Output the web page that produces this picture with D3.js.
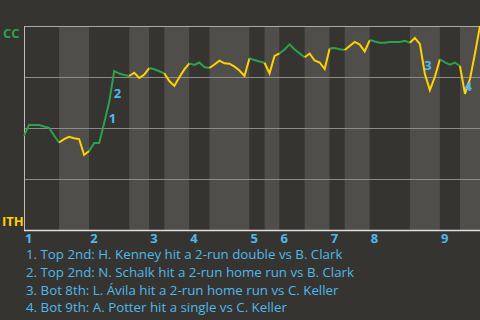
<!DOCTYPE html>
<html>
<head>
<meta charset="utf-8">
<script src="https://cdn.jsdelivr.net/npm/d3@7"></script>
<style>
    html, body { margin: 0; padding: 0; background: #363430; }
    svg { display: block; }
</style>
</head>
<body>
<script>
// plate appearances per half inning (top 1st, bot 1st, top 2nd ...)
var halfInningPA = [7, 6, 8, 4, 3, 5, 4, 8, 3, 3, 5, 5, 3, 5, 8, 6, 4, 4];

// CC win probability after each plate appearance
var winProb = [
    0.461, 0.515, 0.515, 0.515, 0.507, 0.501, 0.463, 0.429,
    0.445, 0.457, 0.450, 0.446, 0.368, 0.387,
    0.426, 0.426, 0.525, 0.627, 0.779, 0.767, 0.760, 0.755,
    0.771, 0.745, 0.762, 0.794,
    0.788, 0.778, 0.768,
    0.730, 0.706, 0.749, 0.787, 0.817,
    0.809, 0.821, 0.799, 0.794,
    0.811, 0.830, 0.817, 0.815, 0.801, 0.782, 0.755, 0.842,
    0.833, 0.826, 0.820,
    0.768, 0.853, 0.866,
    0.885, 0.910, 0.885, 0.866, 0.847,
    0.865, 0.831, 0.821, 0.789, 0.890,
    0.892, 0.886, 0.882,
    0.902, 0.922, 0.909, 0.875, 0.931,
    0.924, 0.918, 0.918, 0.922, 0.922, 0.922, 0.928, 0.918,
    0.941, 0.912, 0.765, 0.686, 0.751, 0.837,
    0.822, 0.811, 0.821, 0.804,
    0.667, 0.740, 0.866, 1.0
];

var innings = ["1", "2", "3", "4", "5", "6", "7", "8", "9"];
var yTicks = [0, 0.25, 0.5, 0.75, 1];

// key plays: index of the plate appearance that ends the play
var keyPlayIndex = [17, 18, 80, 88];
var keyPlayText = [
    "1. Top 2nd: H. Kenney hit a 2-run double vs B. Clark",
    "2. Top 2nd: N. Schalk hit a 2-run home run vs B. Clark",
    "3. Bot 8th: L. Ávila hit a 2-run home run vs C. Keller",
    "4. Bot 9th: A. Potter hit a single vs C. Keller"
];

function init() {
    var w = 480;
    var h = 320;
    var left = 24, right = 480, top = 26, bottom = 230;

    var green = "#2ba24c";
    var yellow = "#ffd200";
    var blue = "#4fb9ec";
    var font = "'Open Sans', sans-serif";

    var svg = d3.select("body").append("svg").attr("width", w).attr("height", h);
    svg.append("rect").attr("width", w).attr("height", h).attr("fill", "#363430");

    var xScale = d3.scaleLinear().domain([0, winProb.length - 1]).range([left, right]);
    var yScale = d3.scaleLinear().domain([0, 1]).range([bottom, top]);

    // half inning start/end indices
    var halves = [];
    var start = 0;
    halfInningPA.forEach(function (n, i) {
        halves.push({ start: start, end: start + n, top: i % 2 == 0, inning: Math.floor(i / 2) });
        start += n;
    });

    // background bands
    svg.selectAll("rect.band")
        .data(halves)
        .enter().append("rect")
        .attr("class", "band")
        .attr("x", function (d) { return xScale(d.start); })
        .attr("y", top)
        .attr("width", function (d) { return xScale(d.end) - xScale(d.start); })
        .attr("height", bottom - top)
        .attr("fill", function (d) { return d.top ? "#363430" : "#504e4b"; });

    // grid lines
    svg.selectAll("line.grid")
        .data(yTicks.slice(1))
        .enter().append("line")
        .attr("class", "grid")
        .attr("x1", left)
        .attr("x2", right)
        .attr("y1", function (d) { return yScale(d) + 0.5; })
        .attr("y2", function (d) { return yScale(d) + 0.5; })
        .attr("stroke", function (d) { return d == 1 ? "#a9a9a9" : "#8c8b89"; })
        .attr("stroke-width", 1);

    // axes
    svg.append("line")
        .attr("x1", left + 0.5).attr("x2", left + 0.5)
        .attr("y1", top).attr("y2", bottom + 1)
        .attr("stroke", "#bdbdbd");
    svg.append("line")
        .attr("x1", left).attr("x2", right)
        .attr("y1", yScale(0) + 0.5).attr("y2", yScale(0) + 0.5)
        .attr("stroke", "#dddddd").attr("stroke-width", 1.5);

    // win probability line, coloured by batting team
    var line = d3.line()
        .x(function (d) { return xScale(d.i); })
        .y(function (d) { return yScale(d.p); });

    svg.selectAll("path.wp")
        .data(halves)
        .enter().append("path")
        .attr("class", "wp")
        .attr("fill", "none")
        .attr("stroke", function (d) { return d.top ? green : yellow; })
        .attr("stroke-width", 2)
        .attr("stroke-linejoin", "miter")
        .attr("d", function (d) {
            var pts = [];
            for (var i = d.start; i <= d.end; i++) pts.push({ i: i, p: winProb[i] });
            return line(pts);
        });

    // key play markers
    svg.selectAll("text.marker")
        .data(keyPlayIndex)
        .enter().append("text")
        .attr("class", "marker")
        .attr("x", function (d) { return (xScale(d - 1) + xScale(d)) / 2 + 2; })
        .attr("y", function (d) { return (yScale(winProb[d - 1]) + yScale(winProb[d])) / 2 + 11; })
        .attr("fill", blue)
        .style("font-family", font)
        .style("font-weight", "bold")
        .style("font-size", "13px")
        .text(function (d, i) { return i + 1; });

    // team labels
    svg.append("text")
        .attr("x", 3).attr("y", 38)
        .attr("fill", green)
        .style("font-family", font).style("font-weight", "bold").style("font-size", "13px")
        .text("CC");
    svg.append("text")
        .attr("x", 2).attr("y", 226)
        .attr("fill", yellow)
        .style("font-family", font).style("font-weight", "bold").style("font-size", "13px")
        .text("ITH");

    // inning labels at start of each top half
    svg.selectAll("text.inning")
        .data(halves.filter(function (d) { return d.top; }))
        .enter().append("text")
        .attr("class", "inning")
        .attr("x", function (d) { return xScale(d.start) + 1; })
        .attr("y", 243)
        .attr("fill", blue)
        .style("font-family", font).style("font-weight", "bold").style("font-size", "13px")
        .text(function (d) { return innings[d.inning]; });

    // key play list
    svg.selectAll("text.play")
        .data(keyPlayText)
        .enter().append("text")
        .attr("class", "play")
        .attr("x", 26)
        .attr("y", function (d, i) { return 259 + i * 17.8; })
        .attr("fill", blue)
        .style("font-family", font)
        .style("font-size", "13.3px")
        .text(function (d) { return d; });
}

window.onload = init;
</script>
</body>
</html>
